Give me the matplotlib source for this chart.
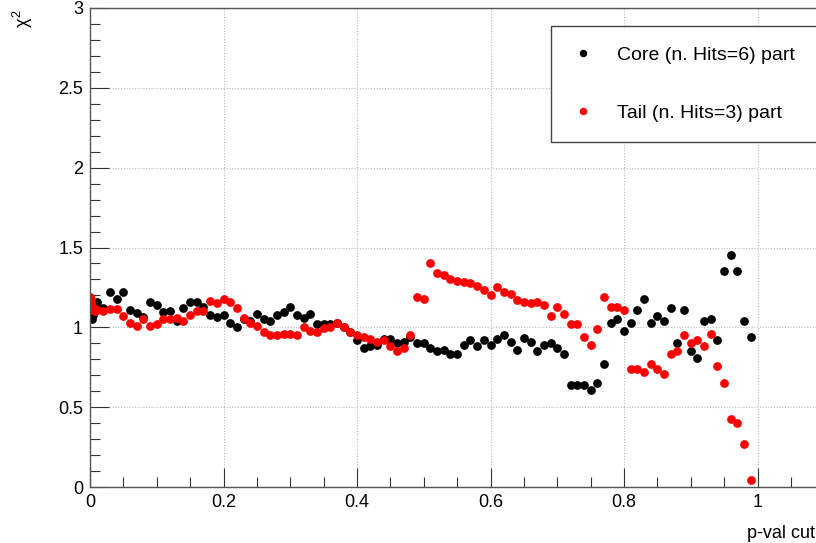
import numpy as np
import matplotlib
matplotlib.use("Agg")
import matplotlib.pyplot as plt
from matplotlib.ticker import MultipleLocator, FuncFormatter

plt.rcParams['font.family'] = ['Liberation Sans', 'DejaVu Sans']
plt.rcParams['mathtext.fontset'] = 'custom'
plt.rcParams['mathtext.rm'] = 'Liberation Sans'
plt.rcParams['mathtext.it'] = 'Liberation Sans'

# p-value cut scan: fine steps near zero, then steps of 0.01
core_x = [0.0, 0.001, 0.002, 0.003, 0.005, 0.008] + [k / 100 for k in range(1, 100)]
core_chi2 = [1.09, 1.16, 1.06, 1.05, 1.08, 1.13,
             1.16, 1.12, 1.22, 1.175, 1.22, 1.11, 1.09, 1.065, 1.16, 1.14,
             1.095, 1.105, 1.04, 1.12, 1.16, 1.16, 1.13, 1.08, 1.065, 1.075,
             1.03, 1.00, 1.05, 1.04, 1.085, 1.05, 1.04, 1.08, 1.095, 1.13,
             1.075, 1.06, 1.085, 1.02, 1.02, 1.02, 1.03, 1.00, 0.97, 0.92,
             0.87, 0.88, 0.89, 0.93, 0.93, 0.90, 0.91, 0.94, 0.90, 0.90,
             0.87, 0.85, 0.86, 0.835, 0.835, 0.89, 0.92, 0.88, 0.92, 0.89,
             0.93, 0.95, 0.91, 0.86, 0.935, 0.91, 0.85, 0.89, 0.90, 0.87,
             0.83, 0.64, 0.64, 0.64, 0.61, 0.65, 0.77, 1.03, 1.05, 0.98,
             1.03, 1.11, 1.18, 1.03, 1.07, 1.04, 1.12, 0.90, 1.11, 0.85,
             0.81, 1.04, 1.05, 0.92, 1.35, 1.45, 1.35, 1.04, 0.94]

tail_x = [0.0, 0.001, 0.002, 0.003, 0.004, 0.005, 0.007] + [k / 100 for k in range(1, 100)]
tail_chi2 = [1.19, 1.18, 1.16, 1.14, 1.12, 1.11, 1.10,
             1.11, 1.10, 1.115, 1.115, 1.07, 1.03, 1.01, 1.055, 1.01, 1.02,
             1.05, 1.05, 1.06, 1.04, 1.08, 1.105, 1.10, 1.165, 1.155, 1.18,
             1.16, 1.12, 1.06, 1.03, 1.01, 0.97, 0.955, 0.955, 0.96, 0.96,
             0.955, 1.00, 0.98, 0.97, 0.995, 1.00, 1.03, 1.00, 0.97, 0.95,
             0.94, 0.93, 0.91, 0.92, 0.88, 0.85, 0.87, 0.95, 1.19, 1.18,
             1.40, 1.34, 1.33, 1.30, 1.29, 1.285, 1.28, 1.26, 1.235, 1.20,
             1.25, 1.22, 1.21, 1.17, 1.16, 1.15, 1.16, 1.14, 1.07, 1.125,
             1.085, 1.02, 1.02, 0.94, 0.89, 0.99, 1.19, 1.125, 1.125, 1.11,
             0.74, 0.74, 0.72, 0.77, 0.74, 0.71, 0.83, 0.85, 0.95, 0.90,
             0.92, 0.88, 0.96, 0.76, 0.65, 0.425, 0.40, 0.27, 0.045]

series_labels = ['Core (n. Hits=6) part', 'Tail (n. Hits=3) part']
series_colors = ['black', '#ff0000']

W, H = 816, 543
fig = plt.figure(figsize=(W / 100, H / 100), dpi=100)
left, right, top, bottom = 90, 820, 8, 487
ax = fig.add_axes([left / W, 1 - bottom / H, (right - left) / W, (bottom - top) / H])

ax.plot(core_x, core_chi2, 'o', ms=6.3, mew=0, color=series_colors[0], label=series_labels[0])
ax.plot(tail_x, tail_chi2, 'o', ms=6.3, mew=0, color=series_colors[1], label=series_labels[1])

ax.set_xlim(0, (right - left) / 667.5)
ax.set_ylim(0, 3)
ax.xaxis.set_major_locator(MultipleLocator(0.2))
ax.xaxis.set_minor_locator(MultipleLocator(0.05))
ax.yaxis.set_major_locator(MultipleLocator(0.5))
ax.yaxis.set_minor_locator(MultipleLocator(0.1))
ax.xaxis.set_major_formatter(FuncFormatter(lambda v, p: f'{v:g}'))
ax.yaxis.set_major_formatter(FuncFormatter(lambda v, p: f'{v:g}'))

ax.tick_params(which='both', direction='in', top=False, right=False,
               labelsize=13, color='#333333')
ax.tick_params(which='major', length=14, width=0.8, pad=5)
ax.tick_params(which='minor', length=7.5, width=0.8)
ax.grid(True, which='major', linestyle=(0, (1, 1.5)), color='#bbbbbb', linewidth=0.8)
ax.set_axisbelow(True)
for s in ax.spines.values():
    s.set_color('#555555')
    s.set_linewidth(1.0)

fig.text(23 / W, 1 - 9 / H, r'$\chi^2$', rotation=90, ha='center', va='top', fontsize=13)
fig.text(815 / W, 1 - 533 / H, 'p-val cut', ha='right', va='center', fontsize=13)

leg = ax.legend(loc='upper left',
                bbox_to_anchor=(551 / W, 1 - 139 / H, (860 - 551) / W, (139 - 25.7) / H),
                bbox_transform=fig.transFigure, mode='expand', fontsize=14,
                borderpad=1.05, labelspacing=2.09, handlelength=1.2,
                handletextpad=1.15, markerscale=0.85, fancybox=False,
                framealpha=1, edgecolor='#444444', borderaxespad=0)
leg.get_frame().set_linewidth(1.0)

fig.savefig('out.png', dpi=100)
